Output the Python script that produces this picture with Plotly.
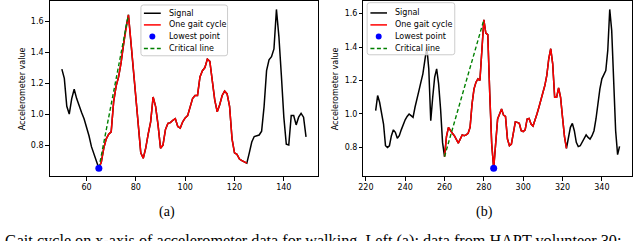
import plotly.graph_objects as go

# ---------------- data (a) ----------------
a_x = list(range(50, 150))
a_y = [1.29, 1.23, 1.05, 1.00, 1.10, 1.16, 1.10, 1.05, 1.01, 0.97,
       0.92, 0.86, 0.79, 0.74, 0.69, 0.65, 0.69, 0.78, 0.84, 0.87,
       0.885, 1.08, 1.18, 1.24, 1.33, 1.45, 1.56, 1.64, 1.47, 1.30,
       1.10, 0.92, 0.75, 0.715, 0.78, 0.87, 0.95, 1.11, 1.05, 0.93,
       0.78, 0.80, 0.90, 0.94, 0.945, 0.96, 0.97, 0.92, 0.91, 0.95,
       0.975, 0.99, 1.04, 1.10, 1.12, 1.12, 1.24, 1.28, 1.30, 1.355,
       1.34, 1.22, 1.09, 1.015, 1.06, 1.12, 1.148, 1.13, 1.05, 0.84,
       0.75, 0.74, 0.71, 0.70, 0.693, 0.683, 0.75, 0.82, 0.855, 0.86,
       0.865, 0.89, 1.05, 1.28, 1.35, 1.37, 1.42, 1.675, 1.50, 1.25,
       0.98, 0.805, 0.80, 0.99, 0.99, 0.93, 0.98, 1.005, 0.98, 0.853]
a_cycle = [65, 125]          # start / end of one gait cycle
a_lowest_x = [65]
a_lowest_y = [0.65]
a_crit_x = [65, 77]
a_crit_y = [0.65, 1.64]

# ---------------- data (b) ----------------
b_x = list(range(225, 350))
b_y = [1.02, 1.11, 1.07, 0.99, 0.94, 0.81, 0.80, 0.81, 0.87, 0.905,
       0.89, 0.855, 0.87, 0.905, 0.94, 0.965, 0.985, 1.00, 0.99, 0.98,
       1.04, 1.10, 1.14, 1.19, 1.24, 1.32, 1.40, 1.27, 0.96, 1.10,
       1.22, 1.27, 1.18, 1.03, 0.83, 0.745, 0.865, 0.92, 0.90, 0.885,
       0.87, 0.845, 0.826, 0.85, 0.875, 0.87, 0.875, 0.885, 0.92, 1.06,
       1.15, 1.19, 1.21, 1.20, 1.38, 1.563, 1.484, 1.474, 1.12, 0.82,
       0.675, 0.80, 0.97, 1.00, 1.03, 0.993, 0.985, 0.85, 0.81, 0.82,
       0.90, 0.953, 0.95, 0.944, 0.90, 0.895, 0.905, 0.97, 0.973, 0.94,
       0.928, 0.96, 1.00, 1.04, 1.08, 1.13, 1.17, 1.23, 1.33, 1.39,
       1.30, 1.10, 1.10, 1.156, 1.10, 0.98, 0.865, 0.795, 0.85, 0.92,
       0.944, 0.90, 0.83, 0.805, 0.81, 0.83, 0.855, 0.875, 0.86, 0.85,
       0.87, 0.90, 0.97, 1.07, 1.15, 1.21, 1.24, 1.26, 1.38, 1.625,
       1.50, 1.22, 0.90, 0.757, 0.806]
b_cycle = [260, 322]
b_lowest_x = [285]
b_lowest_y = [0.675]
b_crit_x = [260, 280]
b_crit_y = [0.745, 1.563]

legend_labels = ["Signal", "One gait cycle", "Lowest point", "Critical line"]
captions = ["(a)", "(b)"]
bottom_caption = ("Gait cycle on x-axis of accelerometer data for walking. "
                  "Left (a): data from HAPT volunteer 30;")

# ---------------- style ----------------
W, H = 640, 241
BLACK, RED, BLUE, GREEN = "#000000", "#ff0000", "#0000ff", "#008000"
LW = 1.5
FONT = "DejaVu Sans"


def px(x):
    return x / W


def py(y):
    return 1 - y / H


fig = go.Figure()


def add_panel(xs, ys, cyc, lx, ly, cx, cy, xa, ya):
    fig.add_trace(go.Scatter(x=xs, y=ys, mode="lines", line=dict(color=BLACK, width=LW),
                             name=legend_labels[0], showlegend=False, xaxis=xa, yaxis=ya))
    i0, i1 = xs.index(cyc[0]), xs.index(cyc[1])
    fig.add_trace(go.Scatter(x=xs[i0:i1 + 1], y=ys[i0:i1 + 1], mode="lines",
                             line=dict(color=RED, width=LW), name=legend_labels[1],
                             showlegend=False, xaxis=xa, yaxis=ya))
    fig.add_trace(go.Scatter(x=cx, y=cy, mode="lines",
                             line=dict(color=GREEN, width=1.4, dash="4px,2.5px"),
                             name=legend_labels[3], showlegend=False, xaxis=xa, yaxis=ya))
    fig.add_trace(go.Scatter(x=lx, y=ly, mode="markers",
                             marker=dict(color=BLUE, size=7), name=legend_labels[2],
                             showlegend=False, xaxis=xa, yaxis=ya))


add_panel(a_x, a_y, a_cycle, a_lowest_x, a_lowest_y, a_crit_x, a_crit_y, "x", "y")
add_panel(b_x, b_y, b_cycle, b_lowest_x, b_lowest_y, b_crit_x, b_crit_y, "x2", "y2")


def pad_range(vals):
    lo, hi = min(vals), max(vals)
    m = (hi - lo) * 0.05
    return [lo - m, hi + m]


axis_common = dict(showgrid=False, zeroline=False, showline=True, mirror=True,
                   linecolor=BLACK, linewidth=1, ticks="outside", ticklen=3.5,
                   tickwidth=0.8, tickcolor=BLACK,
                   tickfont=dict(family=FONT, size=8, color=BLACK))
ydom = [py(176), py(0.5)]
fig.update_layout(
    xaxis=dict(domain=[px(45), px(315.7)], range=pad_range(a_x),
               tickvals=[60, 80, 100, 120, 140], anchor="y", **axis_common),
    yaxis=dict(domain=ydom, range=pad_range(a_y), tickvals=[0.8, 1.0, 1.2, 1.4, 1.6],
               tickformat=".1f", anchor="x",
               title=dict(text="Accelerometer value", font=dict(family=FONT, size=8, color=BLACK),
                          standoff=4), **axis_common),
    xaxis2=dict(domain=[px(361.3), px(631.7)], range=pad_range(b_x),
                tickvals=[220, 240, 260, 280, 300, 320, 340], anchor="y2", **axis_common),
    yaxis2=dict(domain=ydom, range=pad_range(b_y), tickvals=[0.8, 1.0, 1.2, 1.4, 1.6],
                tickformat=".1f", anchor="x2",
                title=dict(text="Accelerometer value", font=dict(family=FONT, size=8, color=BLACK),
                           standoff=4), **axis_common),
)

# ---------------- legends (matplotlib-like boxes) ----------------
shapes, annots = [], []


def rounded_rect(x0, y0, x1, y1, r=2.5):
    X0, X1 = px(x0), px(x1)
    Y0, Y1 = py(y1), py(y0)
    rx, ry = r / W, r / H
    return (f"M {X0+rx},{Y0} L {X1-rx},{Y0} Q {X1},{Y0} {X1},{Y0+ry} "
            f"L {X1},{Y1-ry} Q {X1},{Y1} {X1-rx},{Y1} L {X0+rx},{Y1} "
            f"Q {X0},{Y1} {X0},{Y1-ry} L {X0},{Y0+ry} Q {X0},{Y0} {X0+rx},{Y0} Z")


def add_legend(bx0, by0, bx1, by1, lx0, lx1, tx, rows):
    shapes.append(dict(type="path", xref="paper", yref="paper", path=rounded_rect(bx0, by0, bx1, by1),
                       line=dict(color="#cccccc", width=1), fillcolor="rgba(255,255,255,0.8)",
                       layer="above"))
    styles = [(BLACK, None), (RED, None), (BLUE, "dot"), (GREEN, "dash")]
    for (col, kind), r, lab in zip(styles, rows, legend_labels):
        if kind == "dot":
            cxm = (lx0 + lx1) / 2
            shapes.append(dict(type="circle", xref="paper", yref="paper",
                               x0=px(cxm - 3), x1=px(cxm + 3), y0=py(r + 3), y1=py(r - 3),
                               fillcolor=col, line=dict(color=col, width=0), layer="above"))
        else:
            shapes.append(dict(type="line", xref="paper", yref="paper",
                               x0=px(lx0), x1=px(lx1), y0=py(r), y1=py(r), layer="above",
                               line=dict(color=col, width=LW,
                                         dash="4px,2.5px" if kind == "dash" else "solid")))
        annots.append(dict(x=px(tx), y=py(r), xref="paper", yref="paper", text=lab,
                           showarrow=False, xanchor="left", yanchor="middle",
                           font=dict(family=FONT, size=8, color=BLACK)))


add_legend(137, 4, 224.3, 55, 140, 157, 163, [12.3, 24, 35.7, 47.7])
add_legend(365, 1.7, 453.3, 54, 368.3, 385, 391, [12, 24, 35.7, 47.7])

annots.append(dict(x=px(163), y=py(212), xref="paper", yref="paper", text=captions[0],
                   showarrow=False, xanchor="center", yanchor="middle",
                   font=dict(family="Liberation Serif", size=14, color=BLACK)))
annots.append(dict(x=px(483), y=py(212), xref="paper", yref="paper", text=captions[1],
                   showarrow=False, xanchor="center", yanchor="middle",
                   font=dict(family="Liberation Serif", size=14, color=BLACK)))
annots.append(dict(x=px(-2), y=py(230), xref="paper", yref="paper", text=bottom_caption,
                   showarrow=False, xanchor="left", yanchor="top",
                   font=dict(family="Liberation Serif", size=16.2, color=BLACK)))

fig.update_layout(width=W, height=H, margin=dict(l=0, r=0, t=0, b=0),
                  paper_bgcolor="white", plot_bgcolor="white",
                  shapes=shapes, annotations=annots, showlegend=False)

fig.write_html("out.html", config={"displayModeBar": False},
               post_script="document.body.style.margin='0';document.body.style.overflow='hidden';")
